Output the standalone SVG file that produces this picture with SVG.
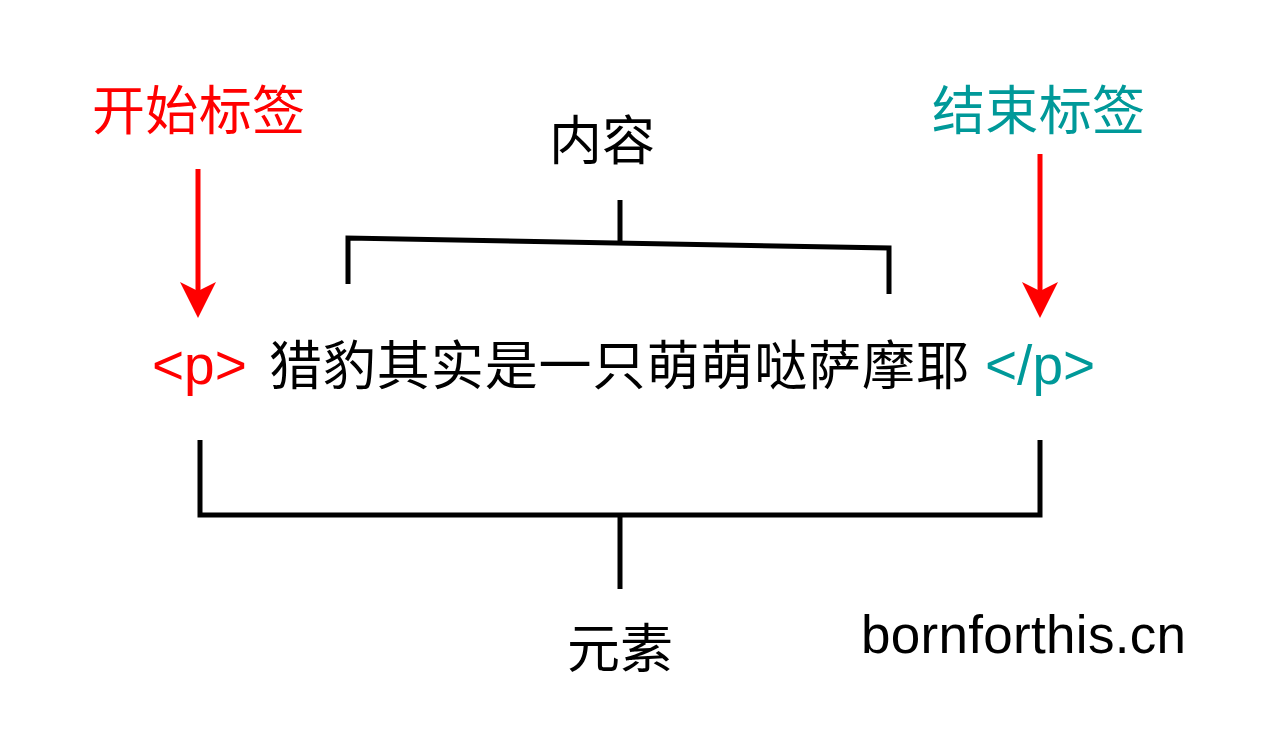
<svg xmlns="http://www.w3.org/2000/svg" width="1266" height="756" viewBox="0 0 1266 756">
<style>
.cjk{font-family:"Noto Sans CJK SC","Noto Sans",sans-serif;font-size:53px}
.lat{font-family:"Liberation Sans",Arial,sans-serif;font-size:55px}
.red{fill:#FF0000}
.teal{fill:#009999}
.blk{fill:#000000}
.br{fill:none;stroke:#000;stroke-width:5;stroke-linejoin:miter;stroke-linecap:butt}
.arr{stroke:#FF0000;stroke-width:5;fill:none}
.head{fill:#FF0000}
</style>
<rect width="1266" height="756" fill="#ffffff"/>
<g id="start-label"><text class="cjk red" x="92" y="130" textLength="213">开始标签</text></g>
<g id="end-label"><text class="cjk teal" x="932" y="130" textLength="213">结束标签</text></g>
<g id="content-label"><text class="cjk blk" x="602" y="160" text-anchor="middle">内容</text></g>
<g id="open-tag"><text class="lat red" x="152" y="384">&lt;p&gt;</text></g>
<g id="content-text"><text class="cjk blk" x="269" y="385" font-size="54" textLength="700">猎豹其实是一只萌萌哒萨摩耶</text></g>
<g id="close-tag"><text class="lat teal" x="985" y="384">&lt;/p&gt;</text></g>
<g id="element-label"><text class="cjk blk" x="620" y="668" text-anchor="middle">元素</text></g>
<g id="watermark"><text font-family="'Liberation Sans',Arial,sans-serif" font-size="53" class="blk" x="861" y="653" textLength="325">bornforthis.cn</text></g>
<g id="connectors">
<line class="arr" x1="198" y1="169" x2="198" y2="292"/>
<path class="head" d="M198 318 L180 282 L198 291 L216 282 Z"/>
<line class="arr" x1="1040" y1="154" x2="1040" y2="292"/>
<path class="head" d="M1040 318 L1022 282 L1040 291 L1058 282 Z"/>
<path class="br" d="M348 284 L348 238 L889 248 L889 294" stroke-width="4.5"/>
<line class="br" x1="620" y1="200" x2="620" y2="243" stroke-width="4.5"/>
<path class="br" d="M200 440 L200 515 L1040 515 L1040 440"/>
<line class="br" x1="620" y1="515" x2="620" y2="589"/>
</g>
</svg>
